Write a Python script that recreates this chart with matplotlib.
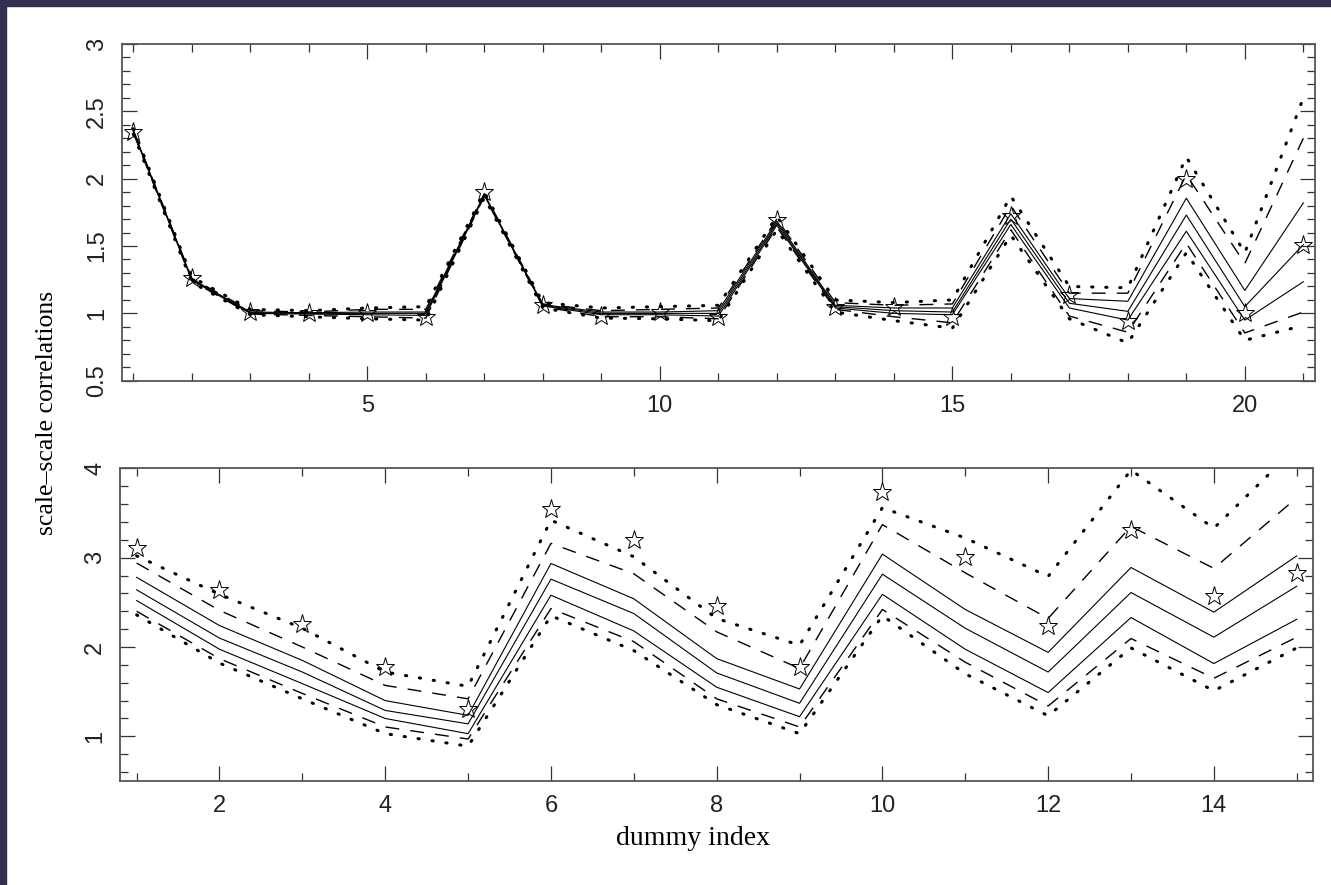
import matplotlib
matplotlib.use("Agg")
import matplotlib.pyplot as plt
from matplotlib.patches import Rectangle
from matplotlib.ticker import MultipleLocator, FuncFormatter

# ---- upper panel: index 1..21 ----
x_top = list(range(1, 22))
star_top = [2.35, 1.26, 1.01, 1.00, 1.00, 0.97, 1.90, 1.06, 0.98, 1.01, 0.97,
            1.69, 1.05, 1.05, 0.97, 1.72, 1.14, 0.94, 2.00, 1.00, 1.51]
dot_hi_top = [2.37, 1.27, 1.03, 1.02, 1.04, 1.05, 1.90, 1.08, 1.04, 1.05, 1.06,
              1.72, 1.10, 1.08, 1.10, 1.87, 1.20, 1.19, 2.16, 1.45, 2.60]
dash_hi_top = [2.36, 1.26, 1.02, 1.01, 1.03, 1.03, 1.89, 1.07, 1.02, 1.03, 1.04,
               1.70, 1.08, 1.06, 1.07, 1.80, 1.15, 1.15, 2.03, 1.37, 2.30]
sol_hi_top = [2.355, 1.255, 1.01, 1.005, 1.01, 1.01, 1.885, 1.065, 1.01, 1.01, 1.02,
              1.685, 1.06, 1.04, 1.04, 1.74, 1.11, 1.09, 1.855, 1.17, 1.82]
sol_mid_top = [2.35, 1.25, 1.005, 1.00, 1.00, 1.00, 1.88, 1.06, 1.00, 1.00, 1.00,
               1.67, 1.05, 1.02, 1.01, 1.70, 1.075, 1.015, 1.73, 1.05, 1.51]
sol_lo_top = [2.345, 1.245, 1.00, 0.995, 0.99, 0.985, 1.875, 1.055, 0.99, 0.99, 0.98,
              1.655, 1.04, 1.00, 0.99, 1.66, 1.04, 0.95, 1.61, 0.95, 1.235]
dash_lo_top = [2.34, 1.24, 0.995, 0.985, 0.975, 0.965, 1.87, 1.05, 0.975, 0.975, 0.96,
               1.64, 1.03, 0.975, 0.93, 1.62, 0.98, 0.86, 1.52, 0.855, 1.01]
dot_lo_top = [2.33, 1.23, 0.99, 0.975, 0.96, 0.95, 1.86, 1.04, 0.965, 0.96, 0.945,
              1.62, 1.01, 0.946, 0.89, 1.58, 0.96, 0.78, 1.45, 0.80, 0.91]

# ---- lower panel: index 1..15 ----
x_bot = list(range(1, 16))
star_bot = [3.11, 2.64, 2.26, 1.78, 1.31, 3.54, 3.20, 2.46, 1.78, 3.74, 3.01,
            2.23, 3.31, 2.57, 2.83]
dot_hi_bot = [3.02, 2.59, 2.21, 1.72, 1.56, 3.42, 3.01, 2.32, 2.02, 3.56, 3.22,
              2.79, 3.98, 3.33, 4.24]
dash_hi_bot = [2.94, 2.41, 2.00, 1.57, 1.42, 3.16, 2.82, 2.17, 1.76, 3.37, 2.83,
               2.32, 3.35, 2.88, 3.67]
sol_hi_bot = [2.78, 2.24, 1.85, 1.40, 1.235, 2.935, 2.54, 1.87, 1.53, 3.04, 2.42,
              1.94, 2.89, 2.39, 3.02]
sol_mid_bot = [2.64, 2.10, 1.72, 1.29, 1.14, 2.76, 2.375, 1.71, 1.37, 2.815, 2.21,
               1.72, 2.61, 2.11, 2.68]
sol_lo_bot = [2.52, 1.975, 1.59, 1.20, 1.03, 2.58, 2.18, 1.55, 1.22, 2.59, 1.975,
              1.49, 2.33, 1.815, 2.31]
dash_lo_bot = [2.40, 1.87, 1.48, 1.105, 0.97, 2.43, 2.06, 1.42, 1.105, 2.42, 1.83,
               1.34, 2.095, 1.65, 2.11]
dot_lo_bot = [2.36, 1.82, 1.42, 1.03, 0.89, 2.35, 1.96, 1.355, 1.03, 2.35, 1.70,
              1.23, 1.99, 1.51, 1.99]

TICKFONT = dict(family=["Liberation Sans", "DejaVu Sans"], size=17)


def draw_panel(ax, x, star, dot_hi, dash_hi, sol_hi, sol_mid, sol_lo, dash_lo, dot_lo):
    for y in (sol_hi, sol_mid, sol_lo):
        ax.plot(x, y, color="black", lw=0.8)
    for y in (dash_hi, dash_lo):
        ax.plot(x, y, color="black", lw=1.0, dashes=(10, 8))
    for y in (dot_hi, dot_lo):
        ax.plot(x, y, color="black", lw=2.2, dashes=(0.4, 4.2),
                dash_capstyle="round")
    ax.plot(x, star, ls="none", marker="*", ms=14, mfc="none",
            mec="black", mew=0.7, zorder=5)


def style_axes(ax, xmaj, ymaj, ymin_step):
    ax.xaxis.set_major_locator(MultipleLocator(xmaj))
    ax.xaxis.set_minor_locator(MultipleLocator(1))
    ax.yaxis.set_major_locator(MultipleLocator(ymaj))
    ax.yaxis.set_minor_locator(MultipleLocator(ymin_step))
    ax.xaxis.set_major_formatter(FuncFormatter(lambda v, p: "%g" % v))
    ax.yaxis.set_major_formatter(FuncFormatter(lambda v, p: "%g" % v))
    ax.tick_params(which="both", direction="in", top=True, right=True,
                   width=0.9, color="#333333", labelcolor="#222222")
    ax.tick_params(which="major", length=11, pad=10)
    ax.tick_params(which="minor", length=6)
    for lab in ax.get_xticklabels() + ax.get_yticklabels():
        lab.set_fontproperties(matplotlib.font_manager.FontProperties(**TICKFONT))
    for lab in ax.get_yticklabels():
        lab.set_rotation(90)
        lab.set_va("center")
    for sp in ax.spines.values():
        sp.set_color("#555555")
        sp.set_linewidth(1.3)


fig = plt.figure(figsize=(13.31, 8.85), dpi=100)

ax1 = fig.add_axes([0.0914, 0.5698, 0.8966, 0.3805])
draw_panel(ax1, x_top, star_top, dot_hi_top, dash_hi_top, sol_hi_top,
           sol_mid_top, sol_lo_top, dash_lo_top, dot_lo_top)
ax1.set_xlim(0.8, 21.2)
ax1.set_ylim(0.5, 3)
style_axes(ax1, 5, 0.5, 0.1)

ax2 = fig.add_axes([0.0902, 0.1175, 0.8965, 0.3533])
draw_panel(ax2, x_bot, star_bot, dot_hi_bot, dash_hi_bot, sol_hi_bot,
           sol_mid_bot, sol_lo_bot, dash_lo_bot, dot_lo_bot)
ax2.set_xlim(0.8, 15.2)
ax2.set_ylim(0.5, 4)
style_axes(ax2, 2, 1, 0.2)

serif = ["Liberation Serif", "DejaVu Serif"]
fig.text(0.0355, 0.533, "scale–scale correlations", rotation=90,
         ha="center", va="center", fontsize=18.5, family=serif)
fig.text(0.521, 0.053, "dummy index", ha="center", va="center",
         fontsize=20, family=serif)

# dark frame strip on the top and left edges
frame = "#32304f"
fig.patches.append(Rectangle((0, 0), 6 / 1331, 1, transform=fig.transFigure,
                             color=frame, zorder=10))
fig.patches.append(Rectangle((0, 1 - 6 / 885), 1, 6 / 885, transform=fig.transFigure,
                             color=frame, zorder=10))

fig.savefig("out.png", dpi=100, facecolor="white")
